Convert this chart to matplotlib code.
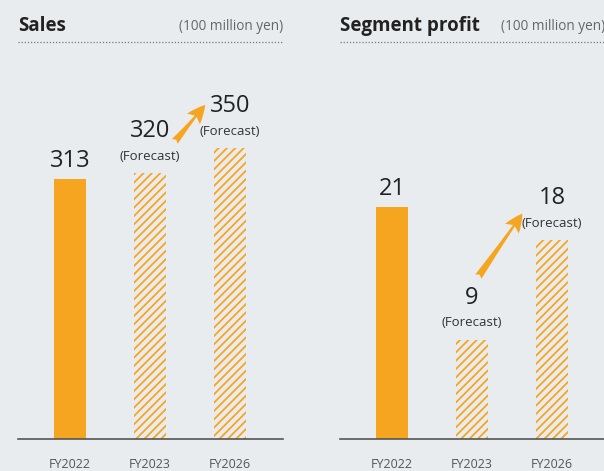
import matplotlib
matplotlib.use("Agg")
import matplotlib.pyplot as plt
from matplotlib.lines import Line2D

plt.rcParams['font.family'] = ['Open Sans', 'DejaVu Sans']
plt.rcParams['hatch.linewidth'] = 1.3

years = ['FY2022', 'FY2023', 'FY2026']
sales = [313, 320, 350]
profit = [21, 9, 18]
forecast = [False, True, True]

bg = '#e9ecef'
orange = '#f6a520'
grey = '#555555'

fig = plt.figure(figsize=(6.04, 4.71), dpi=100, facecolor=bg)

W, H = 604, 471


def add_panel(left_px, vals, ymax, title):
    ax = fig.add_axes([left_px / W, (H - 439) / H, 265 / W, 379 / H])
    ax.set_facecolor(bg)
    for i, v in enumerate(vals):
        if forecast[i]:
            ax.bar(i, v, width=0.39, facecolor='none', edgecolor=orange,
                   hatch='////', linewidth=0)
        else:
            ax.bar(i, v, width=0.39, color=orange, linewidth=0)
    ax.set_xlim(-0.65, 2.6625)
    ax.set_ylim(0, ymax)
    ax.set_xticks(range(len(years)))
    ax.set_xticklabels(years, fontsize=9, color=grey)
    ax.tick_params(axis='x', length=0, pad=14)
    ax.set_yticks([])
    for s in ['top', 'left', 'right']:
        ax.spines[s].set_visible(False)
    ax.spines['bottom'].set_color(grey)
    ax.spines['bottom'].set_linewidth(1.2)

    # value labels
    for i, v in enumerate(vals):
        if forecast[i]:
            ax.annotate('(Forecast)', (i, v), xytext=(0, 12), textcoords='offset points',
                        ha='center', va='center', fontsize=9.5, color='#333333')
            ax.annotate(str(v), (i, v), xytext=(0, 30), textcoords='offset points',
                        ha='center', va='center', fontsize=17, color='#222222')
        else:
            ax.annotate(str(v), (i, v), xytext=(0, 13), textcoords='offset points',
                        ha='center', va='center', fontsize=17, color='#222222')

    # title and unit
    fig.text(left_px / W, 1 - 26 / H, title, fontsize=13.5, fontweight='bold',
             color='#222222', va='center', ha='left')
    fig.text((left_px + 265) / W, 1 - 27 / H, '(100 million yen)', fontsize=9.8,
             color='#666666', va='center', ha='right')
    fig.add_artist(Line2D([left_px / W, (left_px + 265) / W], [1 - 42 / H] * 2,
                          color='#777777', lw=0.9, linestyle=(0, (1, 1.5))))
    return ax


ax1 = add_panel(18, sales, 456, 'Sales')
ax2 = add_panel(340, profit, 34.3, 'Segment profit')

# growth arrows
arrow = dict(arrowstyle='fancy,head_length=1.1,head_width=1.0,tail_width=0.45',
             color=orange, lw=0, mutation_scale=12, shrinkA=0, shrinkB=0)
ax1.annotate('', xy=(1.69, sales[2] + 52), xytext=(1.31, sales[1] + 38), arrowprops=arrow)
ax2.annotate('', xy=(1.63, profit[2] + 2.4), xytext=(1.08, profit[1] + 5.7), arrowprops=arrow)

fig.savefig('out.png', dpi=100, facecolor=bg)
